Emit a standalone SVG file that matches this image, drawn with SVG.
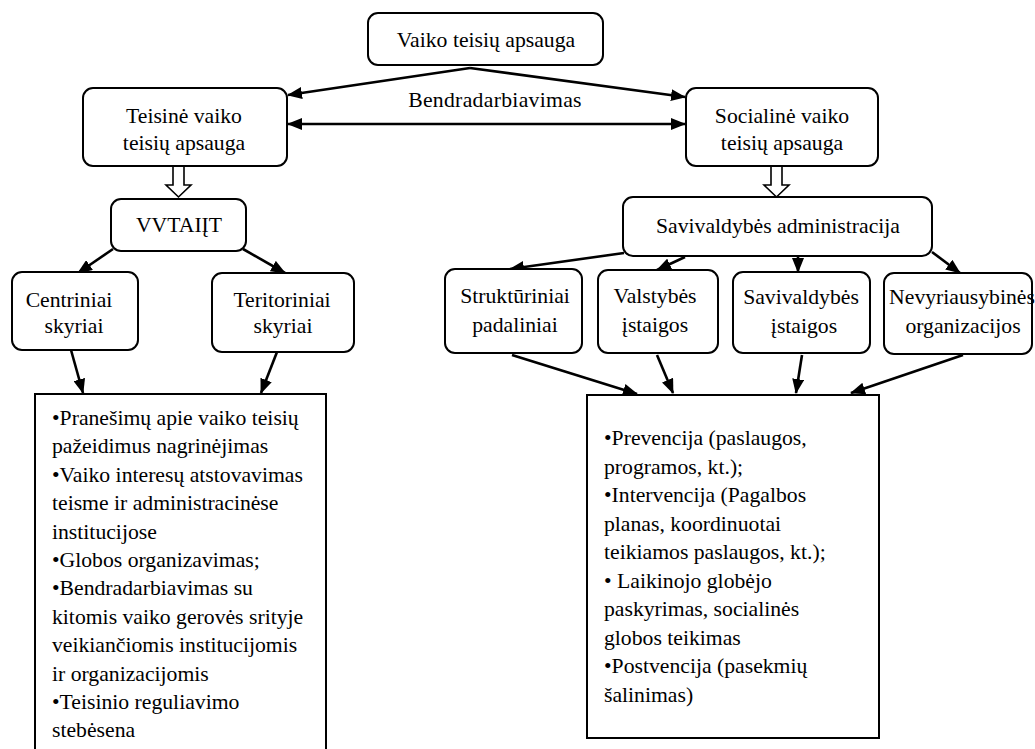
<svg xmlns="http://www.w3.org/2000/svg" width="1035" height="749" viewBox="0 0 1035 749">
<style>
.box{fill:#fff;stroke:#000;stroke-width:2}
.sq{fill:#fff;stroke:#000;stroke-width:2}
text{font-family:"Liberation Serif","DejaVu Serif","Times New Roman",serif;font-size:21.7px;fill:#000}
.c{text-anchor:middle}
.conn{stroke:#000;stroke-width:2.6;fill:none;marker-end:url(#ah)}
.dbl{marker-start:url(#ah)}
.hollow{fill:#fff;stroke:#000;stroke-width:1.6;stroke-linejoin:miter}
</style>
<defs>
<marker id="ah" markerUnits="userSpaceOnUse" markerWidth="15" markerHeight="12" refX="14" refY="6" orient="auto-start-reverse">
<path d="M0,0 L15,6 L0,12 z" fill="#000"/>
</marker>
</defs>
<rect width="1035" height="749" fill="#fff"/>

<g id="connectors">
<line class="conn" x1="470" y1="68" x2="288" y2="95"/>
<line class="conn" x1="470" y1="68" x2="685" y2="97"/>
<line class="conn dbl" x1="288" y1="124" x2="685" y2="124"/>
<line class="conn" x1="113" y1="249" x2="78" y2="273"/>
<line class="conn" x1="243" y1="249" x2="285" y2="273"/>
<line class="conn" x1="71" y1="350" x2="83" y2="393"/>
<line class="conn" x1="277" y1="352" x2="261" y2="393"/>
<line class="conn" x1="624" y1="253" x2="510" y2="269"/>
<line class="conn" x1="685" y1="257" x2="657" y2="270"/>
<line class="conn" x1="798" y1="255" x2="798" y2="272"/>
<line class="conn" x1="932" y1="252" x2="960" y2="273"/>
<line class="conn" x1="512" y1="355" x2="637" y2="394"/>
<line class="conn" x1="657" y1="355" x2="673" y2="393"/>
<line class="conn" x1="802" y1="355" x2="796" y2="393"/>
<line class="conn" x1="963" y1="355" x2="851" y2="393"/>
<polygon class="hollow" points="173,166 184,166 184,185 191,185 178.5,197 166,185 173,185"/>
<polygon class="hollow" points="771,166 782,166 782,185 789,185 776.5,197 764,185 771,185"/>
<text class="c" x="495" y="107" font-family="Liberation Serif, DejaVu Serif, serif" letter-spacing="0.3">Bendradarbiavimas</text>
</g>

<g id="n-top" font-family="Liberation Serif, serif">
<rect class="box" x="368" y="13" width="235" height="52" rx="10"/>
<text class="c" x="486" y="47">Vaiko teisių apsauga</text>
</g>

<g id="n-teisine">
<rect class="box" x="83" y="88" width="204" height="78" rx="10"/>
<text class="c" x="184" y="123">Teisinė vaiko</text>
<text class="c" x="184" y="150">teisių apsauga</text>
</g>

<g id="n-socialine">
<rect class="box" x="686" y="88" width="192" height="78" rx="10"/>
<text class="c" x="782" y="123">Socialinė vaiko</text>
<text class="c" x="782" y="150">teisių apsauga</text>
</g>

<g id="n-vvtait">
<rect class="box" x="111" y="199" width="135" height="52" rx="10"/>
<text class="c" x="179" y="232">VVTAIĮT</text>
</g>

<g id="n-centriniai">
<rect class="box" x="12" y="272" width="126" height="78" rx="10"/>
<text class="c" x="69" y="307">Centriniai</text>
<text class="c" x="74" y="333">skyriai</text>
</g>

<g id="n-teritoriniai">
<rect class="box" x="212" y="273" width="142" height="79" rx="10"/>
<text class="c" x="282" y="307">Teritoriniai</text>
<text class="c" x="283" y="333">skyriai</text>
</g>

<g id="n-savadmin">
<rect class="box" x="623" y="197" width="309" height="59" rx="10"/>
<text class="c" x="778" y="233">Savivaldybės administracija</text>
</g>

<g id="n-strukturiniai">
<rect class="box" x="445" y="269" width="137" height="84" rx="10"/>
<text class="c" x="515" y="303">Struktūriniai</text>
<text class="c" x="515" y="332">padaliniai</text>
</g>

<g id="n-valstybes">
<rect class="box" x="598" y="270" width="120" height="83" rx="10"/>
<text class="c" x="655" y="303">Valstybės</text>
<text class="c" x="655" y="332">įstaigos</text>
</g>

<g id="n-savistaigos">
<rect class="box" x="733" y="272" width="137" height="81" rx="10"/>
<text class="c" x="801" y="304">Savivaldybės</text>
<text class="c" x="804" y="333">įstaigos</text>
</g>

<g id="n-nevyriausybines">
<rect class="box" x="884" y="273" width="148" height="81" rx="10"/>
<text class="c" x="962" y="304">Nevyriausybinės</text>
<text class="c" x="963" y="333">organizacijos</text>
</g>

<g id="n-left-list">
<rect class="sq" x="35" y="394" width="291" height="370"/>
<text x="52" y="425">•Pranešimų apie vaiko teisių</text>
<text x="52" y="453.4">pažeidimus nagrinėjimas</text>
<text x="52" y="481.8">•Vaiko interesų atstovavimas</text>
<text x="52" y="510.2">teisme ir administracinėse</text>
<text x="52" y="538.6">institucijose</text>
<text x="52" y="567">•Globos organizavimas;</text>
<text x="52" y="595.4">•Bendradarbiavimas su</text>
<text x="52" y="623.8">kitomis vaiko gerovės srityje</text>
<text x="52" y="652.2">veikiančiomis institucijomis</text>
<text x="52" y="680.6">ir organizacijomis</text>
<text x="52" y="709">•Teisinio reguliavimo</text>
<text x="52" y="737.4">stebėsena</text>
</g>

<g id="n-right-list">
<rect class="sq" x="587" y="395" width="292" height="343"/>
<text x="604" y="445">•Prevencija (paslaugos,</text>
<text x="604" y="473.5">programos, kt.);</text>
<text x="604" y="502">•Intervencija (Pagalbos</text>
<text x="604" y="530.5">planas, koordinuotai</text>
<text x="604" y="559">teikiamos paslaugos, kt.);</text>
<text x="604" y="587.5">• Laikinojo globėjo</text>
<text x="604" y="616">paskyrimas, socialinės</text>
<text x="604" y="644.5">globos teikimas</text>
<text x="604" y="673">•Postvencija (pasekmių</text>
<text x="604" y="701.5">šalinimas)</text>
</g>
</svg>
